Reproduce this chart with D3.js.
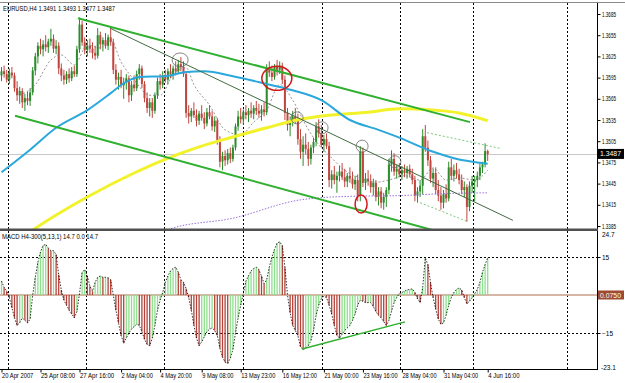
<!DOCTYPE html>
<html>
<head>
<meta charset="utf-8">
<script src="https://cdn.jsdelivr.net/npm/d3@7"></script>
<style>
body { margin: 0; background: #fff; }
text { font-family: "Liberation Sans", "DejaVu Sans", sans-serif; }
</style>
</head>
<body>
<svg id="chart" width="625" height="383"></svg>
<script>
// EURUSD H4 bars
var opens = [1.3598,1.3604,1.3600,1.3592,1.3602,1.3598,1.3580,1.3570,1.3576,1.3560,
 1.3566,1.3562,1.3574,1.3605,1.3625,1.3640,1.3635,1.3642,1.3638,1.3646,
 1.3650,1.3636,1.3640,1.3608,1.3598,1.3592,1.3600,1.3594,1.3604,1.3600,
 1.3635,1.3670,1.3645,1.3634,1.3640,1.3636,1.3630,1.3626,1.3655,1.3642,
 1.3648,1.3640,1.3652,1.3645,1.3606,1.3592,1.3596,1.3584,1.3588,1.3594,
 1.3570,1.3585,1.3580,1.3600,1.3608,1.3586,1.3566,1.3552,1.3560,1.3548,
 1.3570,1.3590,1.3585,1.3598,1.3592,1.3604,1.3600,1.3608,1.3604,1.3614,
 1.3610,1.3600,1.3545,1.3540,1.3548,1.3542,1.3534,1.3544,1.3538,1.3530,
 1.3546,1.3540,1.3526,1.3534,1.3506,1.3476,1.3484,1.3478,1.3488,1.3480,
 1.3496,1.3526,1.3540,1.3536,1.3546,1.3542,1.3548,1.3544,1.3552,1.3548,
 1.3544,1.3550,1.3546,1.3608,1.3602,1.3596,1.3610,1.3606,1.3612,1.3592,
 1.3545,1.3528,1.3534,1.3540,1.3536,1.3508,1.3490,1.3500,1.3494,1.3480,
 1.3496,1.3504,1.3526,1.3516,1.3500,1.3508,1.3498,1.3450,1.3458,1.3450,
 1.3456,1.3462,1.3454,1.3448,1.3456,1.3452,1.3444,1.3450,1.3428,1.3490,
 1.3446,1.3452,1.3448,1.3440,1.3446,1.3426,1.3434,1.3418,1.3426,1.3436,
 1.3472,1.3480,1.3462,1.3466,1.3458,1.3464,1.3460,1.3466,1.3458,1.3450,
 1.3428,1.3434,1.3442,1.3512,1.3496,1.3478,1.3452,1.3460,1.3436,1.3428,
 1.3418,1.3430,1.3424,1.3468,1.3456,1.3464,1.3458,1.3450,1.3436,1.3440,
 1.3412,1.3442,1.3448,1.3450,1.3456,1.3468,1.3472,1.3491];
var highs = [1.3610,1.3612,1.3606,1.3608,1.3610,1.3602,1.3590,1.3582,1.3580,1.3572,
 1.3575,1.3580,1.3610,1.3630,1.3645,1.3650,1.3648,1.3655,1.3650,1.3664,
 1.3656,1.3648,1.3645,1.3615,1.3606,1.3604,1.3608,1.3610,1.3612,1.3640,
 1.3680,1.3675,1.3652,1.3648,1.3650,1.3645,1.3640,1.3665,1.3660,1.3652,
 1.3658,1.3656,1.3666,1.3650,1.3614,1.3602,1.3606,1.3595,1.3600,1.3598,
 1.3590,1.3598,1.3605,1.3614,1.3612,1.3590,1.3574,1.3566,1.3566,1.3574,
 1.3595,1.3600,1.3604,1.3606,1.3608,1.3614,1.3612,1.3618,1.3620,1.3624,
 1.3618,1.3604,1.3556,1.3552,1.3560,1.3550,1.3548,1.3556,1.3546,1.3552,
 1.3556,1.3548,1.3540,1.3538,1.3512,1.3490,1.3492,1.3494,1.3496,1.3500,
 1.3530,1.3548,1.3552,1.3550,1.3556,1.3552,1.3560,1.3556,1.3562,1.3558,
 1.3556,1.3560,1.3614,1.3618,1.3612,1.3614,1.3620,1.3618,1.3616,1.3598,
 1.3552,1.3540,1.3548,1.3552,1.3544,1.3522,1.3512,1.3516,1.3504,1.3500,
 1.3510,1.3532,1.3536,1.3528,1.3514,1.3516,1.3504,1.3464,1.3470,1.3462,
 1.3470,1.3474,1.3466,1.3460,1.3468,1.3462,1.3456,1.3458,1.3498,1.3496,
 1.3460,1.3464,1.3458,1.3452,1.3450,1.3440,1.3440,1.3432,1.3440,1.3480,
 1.3492,1.3488,1.3472,1.3474,1.3470,1.3472,1.3470,1.3472,1.3466,1.3456,
 1.3440,1.3450,1.3522,1.3528,1.3506,1.3484,1.3466,1.3468,1.3450,1.3440,
 1.3436,1.3444,1.3476,1.3480,1.3472,1.3474,1.3466,1.3458,1.3448,1.3444,
 1.3448,1.3456,1.3456,1.3462,1.3474,1.3476,1.3502,1.3493];
var lows = [1.3590,1.3595,1.3588,1.3586,1.3594,1.3575,1.3562,1.3558,1.3552,1.3548,
 1.3556,1.3555,1.3570,1.3598,1.3615,1.3628,1.3625,1.3632,1.3630,1.3640,
 1.3630,1.3628,1.3600,1.3590,1.3585,1.3586,1.3588,1.3590,1.3596,1.3596,
 1.3630,1.3640,1.3628,1.3625,1.3630,1.3622,1.3620,1.3622,1.3635,1.3632,
 1.3636,1.3634,1.3640,1.3600,1.3585,1.3578,1.3580,1.3565,1.3578,1.3560,
 1.3562,1.3575,1.3576,1.3592,1.3580,1.3560,1.3545,1.3540,1.3538,1.3544,
 1.3565,1.3578,1.3580,1.3588,1.3586,1.3594,1.3592,1.3598,1.3600,1.3604,
 1.3596,1.3538,1.3530,1.3532,1.3538,1.3526,1.3528,1.3534,1.3522,1.3526,
 1.3536,1.3520,1.3518,1.3500,1.3468,1.3464,1.3470,1.3472,1.3474,1.3476,
 1.3492,1.3520,1.3530,1.3528,1.3536,1.3532,1.3538,1.3536,1.3542,1.3538,
 1.3534,1.3540,1.3542,1.3596,1.3590,1.3592,1.3598,1.3600,1.3586,1.3535,
 1.3520,1.3512,1.3526,1.3530,1.3500,1.3480,1.3470,1.3486,1.3470,1.3472,
 1.3488,1.3498,1.3510,1.3496,1.3490,1.3494,1.3440,1.3438,1.3444,1.3432,
 1.3448,1.3450,1.3440,1.3440,1.3446,1.3438,1.3436,1.3420,1.3420,1.3440,
 1.3436,1.3442,1.3432,1.3428,1.3420,1.3414,1.3410,1.3408,1.3412,1.3430,
 1.3462,1.3456,1.3452,1.3454,1.3450,1.3454,1.3452,1.3454,1.3444,1.3420,
 1.3418,1.3426,1.3430,1.3490,1.3470,1.3446,1.3440,1.3430,1.3420,1.3408,
 1.3410,1.3418,1.3420,1.3450,1.3448,1.3452,1.3444,1.3430,1.3426,1.3391,
 1.3406,1.3432,1.3420,1.3440,1.3450,1.3460,1.3468,1.3477];
var closes = [1.3604,1.3600,1.3592,1.3602,1.3598,1.3580,1.3570,1.3576,1.3560,1.3566,
 1.3562,1.3574,1.3605,1.3625,1.3640,1.3635,1.3642,1.3638,1.3646,1.3650,
 1.3636,1.3640,1.3608,1.3598,1.3592,1.3600,1.3594,1.3604,1.3600,1.3635,
 1.3670,1.3645,1.3634,1.3640,1.3636,1.3630,1.3626,1.3655,1.3642,1.3648,
 1.3640,1.3652,1.3645,1.3606,1.3592,1.3596,1.3584,1.3588,1.3594,1.3570,
 1.3585,1.3580,1.3600,1.3608,1.3586,1.3566,1.3552,1.3560,1.3548,1.3570,
 1.3590,1.3585,1.3598,1.3592,1.3604,1.3600,1.3608,1.3604,1.3614,1.3610,
 1.3600,1.3545,1.3540,1.3548,1.3542,1.3534,1.3544,1.3538,1.3530,1.3546,
 1.3540,1.3526,1.3534,1.3506,1.3476,1.3484,1.3478,1.3488,1.3480,1.3496,
 1.3526,1.3540,1.3536,1.3546,1.3542,1.3548,1.3544,1.3552,1.3548,1.3544,
 1.3550,1.3546,1.3608,1.3602,1.3596,1.3610,1.3606,1.3612,1.3592,1.3545,
 1.3528,1.3534,1.3540,1.3536,1.3508,1.3490,1.3500,1.3494,1.3480,1.3496,
 1.3504,1.3526,1.3516,1.3500,1.3508,1.3498,1.3450,1.3458,1.3450,1.3456,
 1.3462,1.3454,1.3448,1.3456,1.3452,1.3444,1.3450,1.3428,1.3490,1.3446,
 1.3452,1.3448,1.3440,1.3446,1.3426,1.3434,1.3418,1.3426,1.3436,1.3472,
 1.3480,1.3462,1.3466,1.3458,1.3464,1.3460,1.3466,1.3458,1.3450,1.3428,
 1.3434,1.3442,1.3512,1.3496,1.3478,1.3452,1.3460,1.3436,1.3428,1.3418,
 1.3430,1.3424,1.3468,1.3456,1.3464,1.3458,1.3450,1.3436,1.3440,1.3412,
 1.3442,1.3448,1.3450,1.3456,1.3468,1.3472,1.3491,1.3487];

// MACD H4-300(5,13,1) histogram, one value per bar
var macdVals = [5.5,3,1.5,-1,-5,-9,-12,-11,-9,-10,
 -11,-9.5,0,7,13,17,19.5,20,18.5,17.5,
 17.5,16,8,2,-2,-4,-6,-7.5,-9,-6.5,
 0.5,9,10,7.5,3.5,1.5,5,7,7.5,7,
 7,6.8,6,0,-6,-11,-16,-19,-17,-15,
 -13.5,-12.5,-11.5,-12,-14.5,-17.5,-19.5,-20,-17,-12,
 -6,-2,1,5,7.5,9.5,10.5,11,9,6,
 5,2.5,-1,-6,-12,-17,-20,-18.5,-16.5,-14.5,
 -13.5,-13,-14,-16,-21,-24.5,-26.5,-27,-25,-21.5,
 -15,-9,-4,0.5,5.5,7.5,9.5,10.5,11,10,
 7.5,4.5,6,11,15,18,20.5,21,19.5,11,
 0,-7,-12,-14,-16,-20.5,-21.5,-21,-20,-18,
 -14,-8,-4,-1.5,-0.5,-1,-4,-7.5,-12,-16,
 -17,-15.5,-14,-13,-12,-10,-7.5,-4,-2,-2.5,
 -3,-3,-3,-4.5,-6.5,-8,-9,-10.5,-12,-10,
 -6.5,-3,-1,0.5,1,1.5,2,2.2,2.4,1,
 -1.5,-3,3,14.6,12,5,-1,-5.5,-9.5,-11.5,
 -11,-8,-4,-1,1,2.2,2.8,2,-1,-3.5,
 -2.5,-1,0.5,2.2,5,9,12,14.7];

// moving averages, sampled at bar indices
var blueBars = [0,11,21,33,42,47,53,63,71,78,89,102,112,123,134,145,153,166,174,187];
var blueVals = [1.3461,1.3493,1.3524,1.3549,1.3573,1.3587,1.3596,1.3597,1.3603,1.3604,1.3597,1.3586,1.3577,1.3563,1.3535,1.3521,1.3510,1.3490,1.3481,1.3473];
var yellowBars = [5,12,33,51,62,76,89,102,115,127,141,153,166,176,187];
var yellowVals = [1.3360,1.3379,1.3426,1.3460,1.3478,1.3497,1.3511,1.3524,1.3536,1.3542,1.3546,1.3551,1.3549,1.3545,1.3534];
var purpleBars = [58,65,89,115,134,153,172,187];
var purpleVals = [1.3368,1.3381,1.3396,1.3422,1.3427,1.3428,1.3431,1.3432];
var grayBars = [7,13,19,23,28,33,38,42,46,51,57,61,66,71,74,80,86,92,97,102,107,112,117,122,126,132,138,144,149,155,161,166,171,176,182,187];
var grayVals = [1.3570,1.3585,1.3620,1.3627,1.3613,1.3641,1.3637,1.3648,1.3617,1.3592,1.3570,1.3570,1.3599,1.3609,1.3585,1.3556,1.3521,1.3514,1.3532,1.3549,1.3585,1.3563,1.3528,1.3500,1.3485,1.3464,1.3453,1.3447,1.3450,1.3456,1.3450,1.3467,1.3450,1.3453,1.3450,1.3464];

// drawn objects: [bar1, price1, bar2, price2]
var channelLines = [[29.4,1.3679,180.2,1.3532],[5.2,1.3541,175,1.3370]];
var thinLines = [[41.7,1.3665,196.7,1.3393]];
var dashLines = [[163.7,1.3517,191.7,1.3495],[161,1.3418,179.4,1.3391]];
var macdTrend = [115.6,-21.3,155.2,-10.6];
var grayCircles = [[68.7,1.3620],[113.7,1.3538],[123.3,1.3524],[138.7,1.3498],[151.3,1.3476]];
var redCircles = [[105.9,1.3594],[138.3,1.3416]];

var priceTicks = [1.3685,1.3655,1.3625,1.3595,1.3565,1.3535,1.3505,1.3475,1.3445,1.3415,1.3385];
var timeLabels = ["20 Apr 2007","25 Apr 08:00","27 Apr 16:00","2 May 04:00","4 May 20:00","9 May 08:00","13 May 23:00","16 May 12:00","21 May 00:00","23 May 16:00","28 May 04:00","31 May 04:00","4 Jun 16:00"];
var timeBars = [0,15,30,46,61,77,92,108,124,139,154,170,187];
var gridBars = [2.5,32.5,62.5,93,123.3,153.3,181.3,217.5];

var svg = d3.select("#chart");
var right = 597, pTop = 3, pBot = 229, mTop = 231, mBot = 369;

var x = d3.scaleLinear().domain([0, 187]).range([1.5, 487.7]);
var y = d3.scaleLinear().domain([1.3385, 1.3685]).range([226, 14]);
var ym = d3.scaleLinear().domain([-15, 15]).range([333, 257]);

svg.append("rect").attr("width", 625).attr("height", 383).attr("fill", "#fff");

var defs = svg.append("defs");
defs.append("clipPath").attr("id", "pclip").append("rect")
  .attr("x", 0).attr("y", pTop).attr("width", right).attr("height", pBot - pTop);
defs.append("clipPath").attr("id", "mclip").append("rect")
  .attr("x", 0).attr("y", mTop).attr("width", right).attr("height", mBot - mTop);

// grid
svg.append("g").selectAll("line").data(gridBars).enter().append("line")
  .attr("x1", function(d) { return Math.round(x(d)) + 0.5; })
  .attr("x2", function(d) { return Math.round(x(d)) + 0.5; })
  .attr("y1", pTop).attr("y2", mBot)
  .attr("stroke", "#000").attr("stroke-width", 1).attr("stroke-dasharray", "2,2");

var price = svg.append("g").attr("clip-path", "url(#pclip)");

// bid line
var last = closes[closes.length - 1];
price.append("line").attr("x1", 0).attr("x2", right)
  .attr("y1", Math.round(y(last)) + 0.5).attr("y2", Math.round(y(last)) + 0.5)
  .attr("stroke", "#c8c8c8");

// candles
var bars = d3.range(closes.length);
var candle = price.append("g").selectAll("g").data(bars).enter().append("g");
candle.append("line")
  .attr("x1", function(i) { return x(i); }).attr("x2", function(i) { return x(i); })
  .attr("y1", function(i) { return y(highs[i]); }).attr("y2", function(i) { return y(lows[i]); })
  .attr("stroke", function(i) { return closes[i] >= opens[i] ? "#2a8c2a" : "#c0453f"; })
  .attr("stroke-width", 1);
candle.append("rect")
  .attr("x", function(i) { return x(i) - 1; }).attr("width", 2)
  .attr("y", function(i) { return y(Math.max(opens[i], closes[i])); })
  .attr("height", function(i) { return Math.max(1, Math.abs(y(opens[i]) - y(closes[i]))); })
  .attr("fill", function(i) { return closes[i] >= opens[i] ? "#2a8c2a" : "#c0453f"; });

// averages
function maLine(bs, vs) {
  return d3.line().curve(d3.curveMonotoneX)
    .x(function(d, k) { return x(bs[k]); })
    .y(function(d) { return y(d); })(vs);
}
price.append("path").attr("d", maLine(grayBars, grayVals)).attr("fill", "none")
  .attr("stroke", "#7a7a7a").attr("stroke-width", 0.8).attr("stroke-dasharray", "2,2");
price.append("path").attr("d", maLine(purpleBars, purpleVals)).attr("fill", "none")
  .attr("stroke", "#9a70d8").attr("stroke-width", 1).attr("stroke-dasharray", "1.5,1.5");
price.append("path").attr("d", maLine(yellowBars, yellowVals)).attr("fill", "none")
  .attr("stroke", "#f2f22a").attr("stroke-width", 3);
price.append("path").attr("d", maLine(blueBars, blueVals)).attr("fill", "none")
  .attr("stroke", "#2aa8dc").attr("stroke-width", 2);

// trend lines
function seg(g, data, color, width, dash) {
  g.append("g").selectAll("line").data(data).enter().append("line")
    .attr("x1", function(d) { return x(d[0]); }).attr("y1", function(d) { return y(d[1]); })
    .attr("x2", function(d) { return x(d[2]); }).attr("y2", function(d) { return y(d[3]); })
    .attr("stroke", color).attr("stroke-width", width)
    .attr("stroke-dasharray", dash || null);
}
seg(price, channelLines, "#30b030", 2);
seg(price, thinLines, "#3f6b3f", 1);
seg(price, dashLines, "#5cb85c", 0.8, "2,2");

price.append("g").selectAll("ellipse").data(grayCircles).enter().append("ellipse")
  .attr("cx", function(d) { return x(d[0]); }).attr("cy", function(d) { return y(d[1]); })
  .attr("rx", function(d, k) { return k === 0 ? 8 : 6; }).attr("ry", function(d, k) { return k === 0 ? 7 : 6; })
  .attr("fill", "none").attr("stroke", "#6a6a6a").attr("stroke-width", 0.8);
price.append("g").selectAll("ellipse").data(redCircles).enter().append("ellipse")
  .attr("cx", function(d) { return x(d[0]); }).attr("cy", function(d) { return y(d[1]); })
  .attr("rx", function(d, k) { return k === 0 ? 15 : 6; }).attr("ry", function(d, k) { return k === 0 ? 12 : 9; })
  .attr("fill", "none").attr("stroke", "#d01818").attr("stroke-width", 1.5);

// MACD panel
var macd = svg.append("g").attr("clip-path", "url(#mclip)");
macd.append("g").selectAll("line").data([15, -15]).enter().append("line")
  .attr("x1", 0).attr("x2", right)
  .attr("y1", function(d) { return Math.round(ym(d)) + 0.5; })
  .attr("y2", function(d) { return Math.round(ym(d)) + 0.5; })
  .attr("stroke", "#000").attr("stroke-dasharray", "2,2");
macd.append("line").attr("x1", 0).attr("x2", right)
  .attr("y1", ym(0)).attr("y2", ym(0)).attr("stroke", "#c89c8a").attr("stroke-width", 1.5);
macd.append("g").selectAll("line").data(bars).enter().append("line")
  .attr("x1", function(i) { return x(i); }).attr("x2", function(i) { return x(i); })
  .attr("y1", ym(0)).attr("y2", function(i) { return ym(macdVals[i]); })
  .attr("stroke", function(i) { return i > 0 && macdVals[i] < macdVals[i - 1] ? "#b5423a" : "#8ee08e"; })
  .attr("stroke-width", 1.3);
macd.append("path")
  .attr("d", d3.line().x(function(d, i) { return x(i); }).y(function(d) { return ym(d); })(macdVals))
  .attr("fill", "none").attr("stroke", "#000").attr("stroke-width", 0.8).attr("stroke-dasharray", "1.5,1.5");
macd.append("line")
  .attr("x1", x(macdTrend[0])).attr("y1", ym(macdTrend[1]))
  .attr("x2", x(macdTrend[2])).attr("y2", ym(macdTrend[3]))
  .attr("stroke", "#30b030").attr("stroke-width", 1.5);

// frame
svg.append("line").attr("x1", 0).attr("x2", 625).attr("y1", 2.5).attr("y2", 2.5).attr("stroke", "#8a8a8a");
svg.append("line").attr("x1", right + 0.5).attr("x2", right + 0.5).attr("y1", pTop).attr("y2", mBot + 0.5).attr("stroke", "#000");
svg.append("rect").attr("x", 0).attr("y", pBot - 0.5).attr("width", right + 1).attr("height", 2.5).attr("fill", "#505050");
svg.append("line").attr("x1", 0).attr("x2", right + 1).attr("y1", mBot + 0.5).attr("y2", mBot + 0.5).attr("stroke", "#000");

// price axis
var pAxis = svg.append("g").attr("transform", "translate(" + (right + 0.5) + ",0)")
  .call(d3.axisRight(y).tickValues(priceTicks).tickSize(3).tickFormat(d3.format(".4f")));
pAxis.select(".domain").remove();
pAxis.selectAll("text").attr("x", 4.5).attr("font-size", 6.5).attr("fill", "#000")
  .attr("textLength", 14).attr("lengthAdjust", "spacingAndGlyphs");

// bid price box
var by = y(last);
svg.append("rect").attr("x", right + 1).attr("y", by - 5).attr("width", 26).attr("height", 10).attr("fill", "#000");
svg.append("text").attr("x", right + 3).attr("y", by + 2.5).attr("font-size", 6.5).attr("fill", "#fff")
  .attr("textLength", 21).attr("lengthAdjust", "spacingAndGlyphs").text(d3.format(".4f")(last));

// macd axis
var mAxis = svg.append("g").attr("transform", "translate(" + (right + 0.5) + ",0)")
  .call(d3.axisRight(ym).tickValues([15, -15]).tickSize(3).tickFormat(d3.format("d")));
mAxis.select(".domain").remove();
mAxis.selectAll("text").attr("x", 4.5).attr("font-size", 6.5).attr("fill", "#000");
svg.append("text").attr("x", right + 5).attr("y", mTop + 6).attr("font-size", 6.5).text("24.7");
svg.append("text").attr("x", right + 4).attr("y", mBot + 1).attr("font-size", 6.5).text("-23.1");
svg.append("rect").attr("x", right + 1).attr("y", ym(0) - 4.5).attr("width", 26).attr("height", 9).attr("fill", "#9e4a2e");
svg.append("text").attr("x", right + 3).attr("y", ym(0) + 2.5).attr("font-size", 6.5).attr("fill", "#fff")
  .attr("textLength", 21).attr("lengthAdjust", "spacingAndGlyphs").text("0.0750");

// time axis
var tAxis = svg.append("g").attr("transform", "translate(0," + (mBot + 0.5) + ")")
  .call(d3.axisBottom(x).tickValues(timeBars).tickSize(3)
    .tickFormat(function(d, i) { return timeLabels[i]; }));
tAxis.select(".domain").remove();
tAxis.selectAll("text").attr("text-anchor", "start").attr("x", 0).attr("y", 4)
  .attr("font-size", 6.5).attr("fill", "#000")
  .attr("textLength", function(d, i) { return timeLabels[i].length * 2.85; })
  .attr("lengthAdjust", "spacingAndGlyphs");

// headers
svg.append("text").attr("x", 3).attr("y", 10.5).attr("font-size", 7)
  .attr("textLength", 112).attr("lengthAdjust", "spacingAndGlyphs")
  .text("EURUSD,H4 " + [opens[187], highs[187], lows[187], closes[187]].map(d3.format(".4f")).join(" "));
svg.append("text").attr("x", 2).attr("y", mTop + 7.5).attr("font-size", 7)
  .attr("textLength", 96).attr("lengthAdjust", "spacingAndGlyphs")
  .text("MACD H4-300(5,13,1) 14.7 0.0 14.7");
</script>
</body>
</html>
